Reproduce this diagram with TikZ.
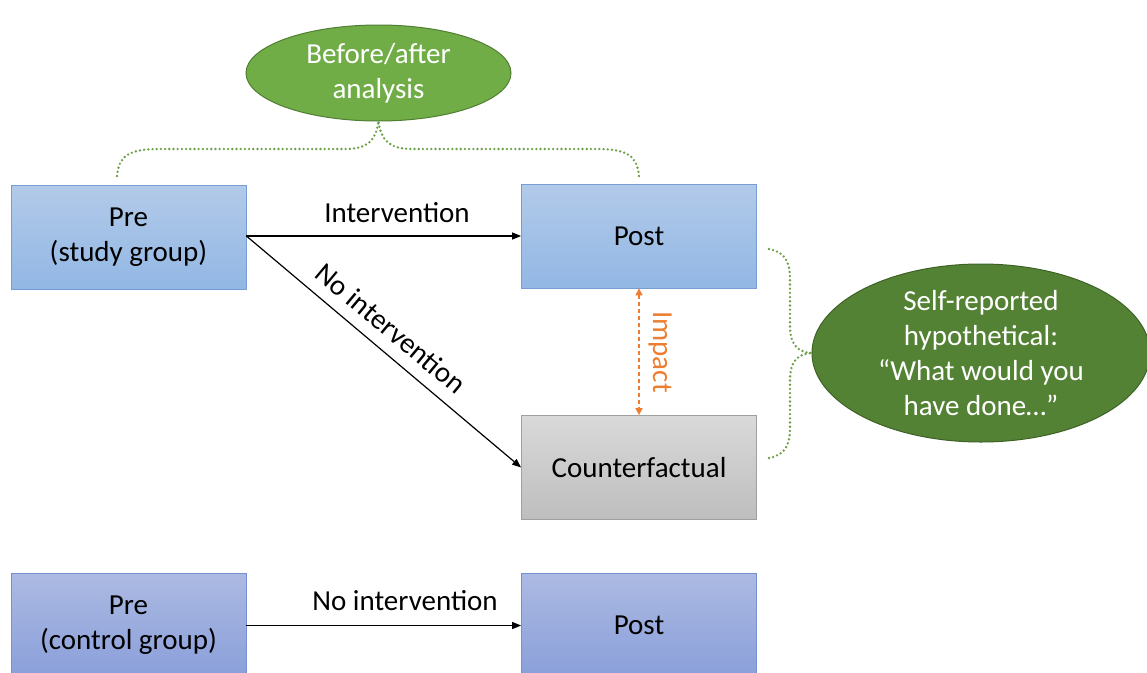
\documentclass[tikz,border=0pt]{standalone}
\usepackage{fontspec}
\setmainfont{Carlito}
\usetikzlibrary{arrows.meta,shapes.geometric,shadings}

\definecolor{boxtop}{RGB}{178,202,233}
\definecolor{boxbot}{RGB}{146,183,228}
\definecolor{boxline}{RGB}{118,158,210}
\definecolor{ctrltop}{RGB}{172,186,226}
\definecolor{ctrlbot}{RGB}{138,159,218}
\definecolor{ctrlline}{RGB}{118,142,210}
\definecolor{cftop}{RGB}{217,217,217}
\definecolor{cfbot}{RGB}{190,190,190}
\definecolor{cfline}{RGB}{160,160,160}
\definecolor{lightgreen}{RGB}{112,173,71}
\definecolor{lightgreenline}{RGB}{80,126,50}
\definecolor{darkgreen}{RGB}{84,130,53}
\definecolor{darkgreenline}{RGB}{62,98,38}
\definecolor{bracegreen}{RGB}{106,160,70}
\definecolor{impactorange}{RGB}{237,125,49}

\tikzset{
  txt/.style={font=\fontsize{29}{35}\selectfont, align=center},
  stagebox/.style={txt, rectangle, minimum width=235pt, minimum height=104pt,
    inner sep=0pt, line width=0.8pt},
  studybox/.style={stagebox, draw=boxline, top color=boxtop, bottom color=boxbot},
  ctrlbox/.style={stagebox, draw=ctrlline, top color=ctrltop, bottom color=ctrlbot},
  cfbox/.style={stagebox, draw=cfline, top color=cftop, bottom color=cfbot},
  bubble/.style={txt, ellipse, inner sep=0pt, text=white, line width=1pt},
  flow/.style={-{Triangle[length=9pt,width=7pt]}, line width=1.2pt, black},
  impactarrow/.style={{Triangle[length=7pt,width=7pt]}-{Triangle[length=7pt,width=7pt]},
    impactorange, line width=1.5pt, dash pattern=on 4pt off 3pt},
  bracket/.style={bracegreen, line width=2.6pt, line cap=round,
    dash pattern=on 0pt off 4.2pt},
}

\begin{document}
\begin{tikzpicture}[x=1pt, y=-1pt]
  \clip (0,0) rectangle (1147,672);

  % stage boxes
  \node[studybox] (pre)  at (128.5,237) {Pre\\(study group)};
  \node[studybox] (post) at (639,236)   {Post};
  \node[cfbox]    (cf)   at (639,467.5) {Counterfactual};
  \node[ctrlbox]  (cpre)  at (128.5,625.5) {Pre\\(control group)};
  \node[ctrlbox]  (cpost) at (639,625.5)   {Post};

  % analysis bubbles
  \node[bubble, fill=lightgreen, draw=lightgreenline,
        minimum width=265pt, minimum height=96pt] (ba) at (378.5,73)
        {Before/after\\analysis};
  \node[bubble, fill=darkgreen, draw=darkgreenline,
        minimum width=338pt, minimum height=178pt] (sr) at (981,353)
        {Self-reported\\hypothetical:\\“What would you\\have done…”};

  % transitions
  \draw[flow] (pre.east |- post.west) -- (post.west);
  \draw[flow] (pre.east |- post.west) -- (cf.west);
  \draw[flow] (cpre.east) -- (cpost.west);
  \node[txt] (lint)  at (397,213) {Intervention};
  \node[txt, rotate=-39.9] (lnoint) at (391,328) {No intervention};
  \node[txt] (lcint) at (405,601) {No intervention};

  % impact between post and counterfactual
  \draw[impactarrow] (post.south) -- (cf.north);
  \node[txt, text=impactorange, rotate=-90] (limp) at (660,352) {Impact};

  % brace joining pre and post to the before/after bubble
  \coordinate (bl) at (117,176);
  \coordinate (br) at (639,176);
  \draw[bracket] (bl) .. controls (119,156) and (128,149) .. (160,149)
    -- (345,149) .. controls (368,149) and (376,140) .. (ba.south);
  \draw[bracket] (br) .. controls (637,156) and (628,149) .. (596,149)
    -- (412,149) .. controls (389,149) and (381,140) .. (ba.south);

  % brace joining post and counterfactual to the self-reported bubble
  \coordinate (rt) at (769,249);
  \coordinate (rb) at (769,458);
  \draw[bracket] (rt) .. controls (784,252) and (790,260) .. (790,280)
    -- (790,326) .. controls (790,344) and (797,352) .. (sr.west);
  \draw[bracket] (rb) .. controls (784,455) and (790,447) .. (790,427)
    -- (790,380) .. controls (790,362) and (797,354) .. (sr.west);
\end{tikzpicture}
\end{document}
